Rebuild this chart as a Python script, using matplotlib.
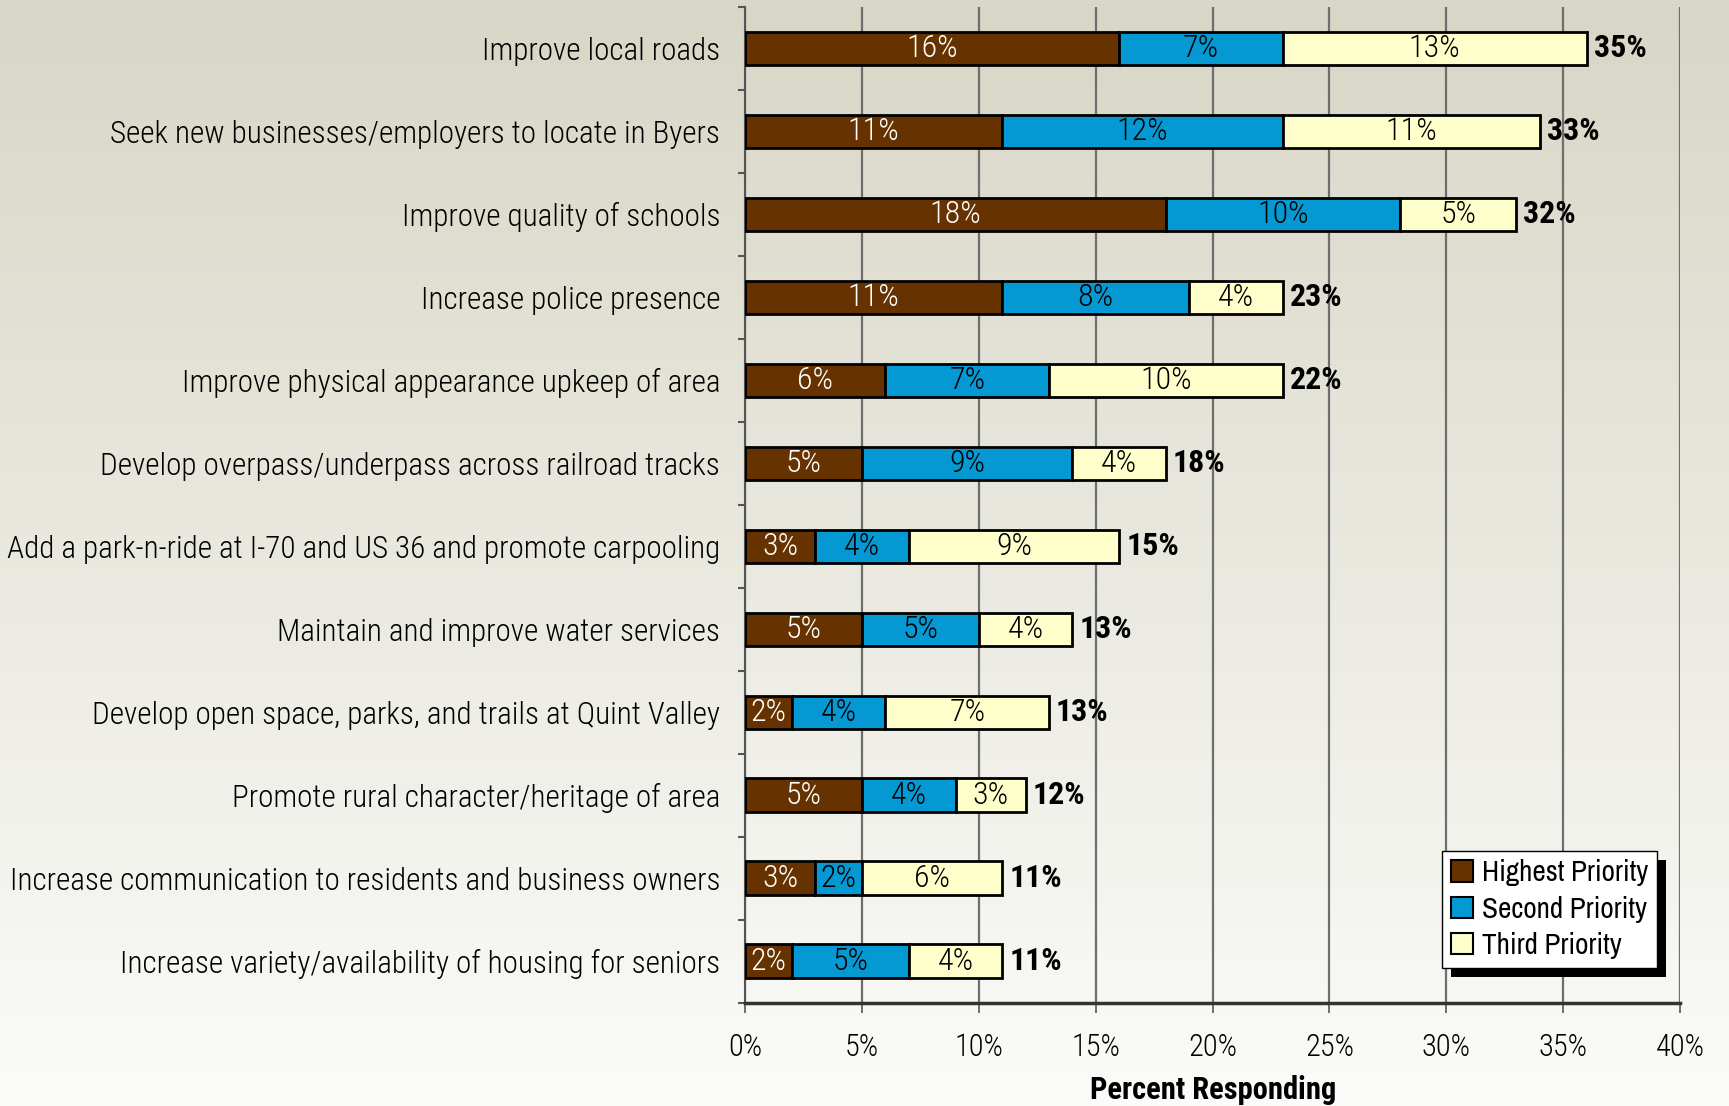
import numpy as np
import matplotlib
matplotlib.use("Agg")
import matplotlib.pyplot as plt
from matplotlib.patches import Rectangle, Patch

# --- data -------------------------------------------------------------
categories = [
    "Improve local roads",
    "Seek new businesses/employers to locate in Byers",
    "Improve quality of schools",
    "Increase police presence",
    "Improve physical appearance upkeep of area",
    "Develop overpass/underpass across railroad tracks",
    "Add a park-n-ride at I-70 and US 36 and promote carpooling",
    "Maintain and improve water services",
    "Develop open space, parks, and trails at Quint Valley",
    "Promote rural character/heritage of area",
    "Increase communication to residents and business owners",
    "Increase variety/availability of housing for seniors",
]
highest = [16, 11, 18, 11, 6, 5, 3, 5, 2, 5, 3, 2]
second = [7, 12, 10, 8, 7, 9, 4, 5, 4, 4, 2, 5]
third = [13, 11, 5, 4, 10, 4, 9, 4, 7, 3, 6, 4]
totals = [35, 33, 32, 23, 22, 18, 15, 13, 13, 12, 11, 11]
series_names = ["Highest Priority", "Second Priority", "Third Priority"]
xticks = [0, 5, 10, 15, 20, 25, 30, 35, 40]

colors = ["#663300", "#0599d3", "#ffffcc"]
text_colors = ["white", "black", "black"]

COND = ["Roboto Condensed", "Barlow Semi Condensed", "DejaVu Sans"]
NARROW = ["Archivo Narrow", "Roboto Condensed", "DejaVu Sans"]
plt.rcParams["font.family"] = COND

fig = plt.figure(figsize=(17.29, 11.06), dpi=100)

# gradient background
bg = fig.add_axes([0, 0, 1, 1], zorder=-10)
top_c = np.array([216, 214, 198]) / 255
bot_c = np.array([251, 251, 249]) / 255
t = np.linspace(0, 1, 256)[:, None]
grad = top_c[None, :] * (1 - t) + bot_c[None, :] * t
bg.imshow(grad[:, None, :], aspect="auto", extent=[0, 1, 0, 1])
bg.set_axis_off()

ax = fig.add_axes([0.431, 0.0935, 0.5407, 0.9005])
ax.set_facecolor("none")

y = np.arange(len(categories))
left = np.zeros(len(categories))
for vals, col, tcol, name in zip([highest, second, third], colors, text_colors, series_names):
    vals = np.array(vals, dtype=float)
    ax.barh(y, vals, left=left, height=0.4, color=col, edgecolor="black",
            linewidth=2, label=name, zorder=3)
    for yi, l, v in zip(y, left, vals):
        ax.text(l + v / 2, yi, f"{int(v)}%", ha="center", va="center",
                color=tcol, fontsize=23, fontweight="light", zorder=4)
    left += vals

for yi, end, tot in zip(y, left, totals):
    ax.text(end + 0.3, yi, f"{tot}%", ha="left", va="center",
            fontsize=23, fontweight="bold", zorder=4)

ax.set_xlim(0, 40)
ax.set_ylim(len(categories) - 0.5, -0.5)
ax.set_xticks(xticks)
ax.set_xticklabels([f"{v}%" for v in xticks], fontsize=22, fontweight="light")
ax.set_yticks(y)
ax.set_yticklabels(categories, fontsize=22.4, fontweight="light")
ax.set_yticks(np.arange(len(categories) + 1) - 0.5, minor=True)
ax.tick_params(axis="y", which="major", length=0, pad=18)
ax.tick_params(axis="y", which="minor", length=5, width=1.5, color="#555555", direction="out")
ax.tick_params(axis="x", length=7, width=1.2, color="#555555", direction="out", pad=15)

ax.grid(axis="x", color="#6e6e6e", linewidth=1.6, zorder=0)
ax.set_axisbelow(True)
for s in ["top", "right"]:
    ax.spines[s].set_visible(False)
ax.spines["left"].set_color("#555555")
ax.spines["left"].set_linewidth(1.5)
ax.spines["bottom"].set_color("#333333")
ax.spines["bottom"].set_linewidth(2.5)

ax.set_xlabel("Percent Responding", fontsize=22, fontweight="bold", labelpad=9)

handles = [Patch(facecolor=c, edgecolor="black", linewidth=1.5) for c in colors]
leg = ax.legend(handles, series_names, loc="lower right", bbox_to_anchor=(0.975, 0.035),
                borderaxespad=0, frameon=True, fancybox=False, framealpha=1,
                edgecolor="black", prop={"family": NARROW, "size": 21},
                handlelength=0.75, handleheight=0.75, handletextpad=0.3,
                labelspacing=0.32, borderpad=0.3)
leg.get_frame().set_linewidth(1)
leg.set_zorder(6)

# hard black drop shadow behind legend
fig.canvas.draw()
bb = leg.get_window_extent()
inv = fig.transFigure.inverted()
x0, y0 = inv.transform((bb.x0 + 9, bb.y0 - 9))
x1, y1 = inv.transform((bb.x1 + 9, bb.y1 - 9))
ax.add_patch(Rectangle((x0, y0), x1 - x0, y1 - y0, transform=fig.transFigure,
                       facecolor="black", edgecolor="none", zorder=5.5, clip_on=False))

fig.savefig("out.png", dpi=100)
